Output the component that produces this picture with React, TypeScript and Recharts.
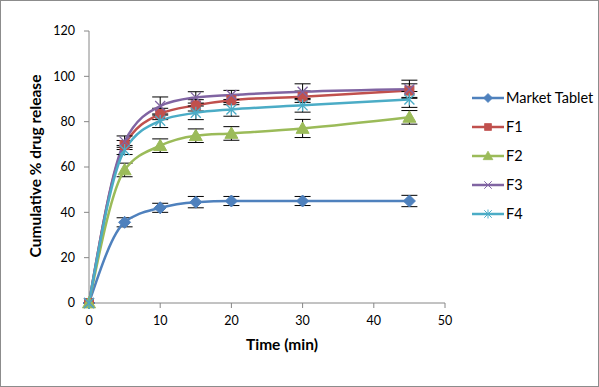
import React from "react";
import { LineChart, Line, XAxis, YAxis, ErrorBar } from "recharts";

const times = [0, 5, 10, 15, 20, 30, 45];
const marketTablet = [0, 35.6, 42.0, 44.5, 45.0, 45.0, 45.0];
const f1 = [0, 69.7, 83.4, 87.2, 89.5, 91.0, 93.7];
const f2 = [0, 58.7, 69.4, 73.8, 74.8, 77.0, 81.9];
const f3 = [0, 71.2, 86.9, 90.7, 91.8, 93.2, 94.3];
const f4 = [0, 67.5, 80.4, 83.9, 85.4, 87.2, 89.8];

const marketErr = [0, 2, 2, 2.5, 2, 2, 2.5];
const f1Err = [0, 2, 2.5, 2.5, 2, 2.5, 3];
const f2Err = [0, 3, 3, 3, 3, 4, 3];
const f3Err = [0, 2.5, 4, 2.5, 2, 3.5, 4];
const f4Err = [0, 2, 3, 3, 3, 3, 3.5];

const xTicks = [0, 10, 20, 30, 40, 50];
const yTicks = [0, 20, 40, 60, 80, 100, 120];

const seriesNames = ["Market Tablet", "F1", "F2", "F3", "F4"];
const seriesKeys = ["mt", "f1", "f2", "f3", "f4"];
const seriesColors = ["#4F81BD", "#C0504D", "#9BBB59", "#8064A2", "#4BACC6"];
const seriesShapes = ["diamond", "square", "triangle", "x", "star"];

const values = [marketTablet, f1, f2, f3, f4];
const errors = [marketErr, f1Err, f2Err, f3Err, f4Err];

const data = times.map((t, i) => {
  const row: Record<string, number> = { t };
  seriesKeys.forEach((k, s) => {
    row[k] = values[s][i];
    row[k + "Err"] = errors[s][i];
  });
  return row;
});

const FONT = "Lato, 'Open Sans', sans-serif";

function Marker({ shape, color, cx, cy }: { shape: string; color: string; cx: number; cy: number }) {
  if (shape === "diamond") {
    const r = 6;
    return <polygon points={`${cx},${cy - r} ${cx + r},${cy} ${cx},${cy + r} ${cx - r},${cy}`} fill={color} stroke={color} />;
  }
  if (shape === "square") {
    const r = 4.5;
    return <rect x={cx - r} y={cy - r} width={2 * r} height={2 * r} fill={color} stroke={color} />;
  }
  if (shape === "triangle") {
    const r = 6.5;
    return <polygon points={`${cx},${cy - r} ${cx + r},${cy + r * 0.75} ${cx - r},${cy + r * 0.75}`} fill={color} stroke={color} />;
  }
  if (shape === "x") {
    const r = 5;
    return (
      <g stroke={color} strokeWidth={1.3}>
        <line x1={cx - r} y1={cy - r} x2={cx + r} y2={cy + r} />
        <line x1={cx - r} y1={cy + r} x2={cx + r} y2={cy - r} />
      </g>
    );
  }
  const r = 5;
  return (
    <g stroke={color} strokeWidth={1.3}>
      <line x1={cx - r} y1={cy - r} x2={cx + r} y2={cy + r} />
      <line x1={cx - r} y1={cy + r} x2={cx + r} y2={cy - r} />
      <line x1={cx} y1={cy - r - 1} x2={cx} y2={cy + r + 1} />
    </g>
  );
}

const titleStyle = { fontWeight: 700, fontSize: 15.5, fill: "#000", fontFamily: FONT };

export default function App() {
  return (
    <div
      style={{
        position: "absolute",
        left: 0,
        top: 0,
        width: 599,
        height: 387,
        background: "#fff",
        border: "1px solid #8c8c8c",
        boxSizing: "border-box",
        fontFamily: FONT,
      }}
    >
      <div style={{ position: "absolute", left: -1, top: -1 }}>
        <LineChart width={599} height={387} data={data} margin={{ top: 31, right: 154, left: 0, bottom: 0 }}>
          <XAxis
            dataKey="t"
            type="number"
            domain={[0, 50]}
            ticks={xTicks}
            stroke="#868686"
            tickSize={5}
            tickMargin={8}
            height={84}
            tick={{ fill: "#000", fontSize: 12.5, fontFamily: FONT }}
            label={{
              content: () => (
                <text x={282} y={350} textAnchor="middle" style={titleStyle}>
                  Time (min)
                </text>
              ),
            }}
          />
          <YAxis
            type="number"
            domain={[0, 120]}
            ticks={yTicks}
            stroke="#868686"
            tickSize={5}
            tickMargin={9}
            width={89}
            tick={{ fill: "#000", fontSize: 12.5, fontFamily: FONT }}
            label={{
              content: () => (
                <text
                  x={0}
                  y={0}
                  transform="translate(35,166) rotate(-90)"
                  textAnchor="middle"
                  dominantBaseline="central"
                  style={titleStyle}
                >
                  Cumulative % drug release
                </text>
              ),
            }}
          />
          {seriesKeys.map((k, s) => (
            <Line
              key={k}
              dataKey={k}
              type="monotone"
              stroke={seriesColors[s]}
              strokeWidth={2.5}
              isAnimationActive={false}
              dot={(p: any) => (
                <Marker key={`${k}-${p.index}`} shape={seriesShapes[s]} color={seriesColors[s]} cx={p.cx} cy={p.cy} />
              )}
              activeDot={false}
            >
              <ErrorBar dataKey={k + "Err"} width={8} stroke="#000" strokeWidth={1} direction="y" />
            </Line>
          ))}
        </LineChart>
      </div>
      <div style={{ position: "absolute", left: 470, top: 82 }}>
        {seriesNames.map((n, s) => (
          <div key={n} style={{ display: "flex", alignItems: "center", height: 29 }}>
            <svg width={34} height={16} style={{ display: "block" }}>
              <line x1={1} y1={8} x2={33} y2={8} stroke={seriesColors[s]} strokeWidth={2.5} />
              <g transform="translate(17,8) scale(0.75) translate(-17,-8)">
                <Marker shape={seriesShapes[s]} color={seriesColors[s]} cx={17} cy={8} />
              </g>
            </svg>
            <span style={{ fontSize: 14.5, color: "#000", marginLeft: 1, fontFamily: FONT }}>{n}</span>
          </div>
        ))}
      </div>
    </div>
  );
}
